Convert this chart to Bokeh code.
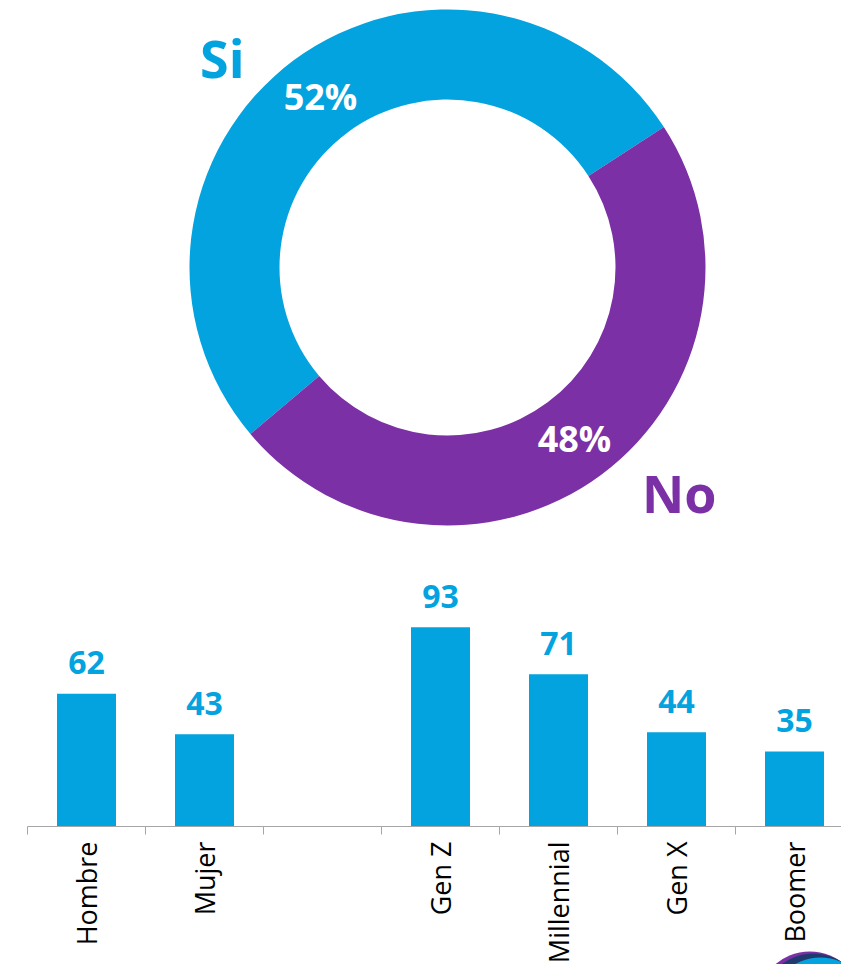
import math
from bokeh.plotting import figure
from bokeh.layouts import column
from bokeh.models import Range1d, FixedTicker, ColumnDataSource
from bokeh.embed import file_html
from bokeh.resources import INLINE
from bokeh.core.properties import value

# ---------------- data ----------------
donut_labels = ["Si", "No"]
donut_values = [52, 48]
donut_pct_text = ["52%", "48%"]
donut_colors = ["#03A3E0", "#7B30A5"]

bar_categories = ["Hombre", "Mujer", "", "Gen Z", "Millennial", "Gen X", "Boomer"]
bar_values = [62, 43, None, 93, 71, 44, 35]
bar_color = "#03A3E0"

# ---------------- styles / layout ----------------
FONT = "Open Sans"
W = 841
H1 = 552
LEFT = 27                    # frame left edge (shared by all figures)
CX, CY = 447, 285            # donut centre (data units = px)
R_IN, R_OUT = 168, 258
START_DEG = 33.0
LABEL_ANGLES = [137.4, 315.5]
LABEL_RADII = [306, 325]

# ---------------- donut ----------------
p1 = figure(width=W, height=H1, x_range=Range1d(LEFT, W), y_range=Range1d(0, H1),
            x_axis_type=None, y_axis_type=None, output_backend="svg",
            toolbar_location=None, min_border=0, min_border_left=LEFT)
p1.grid.visible = False
p1.outline_line_color = None

total = sum(donut_values)
starts, ends, mids = [], [], []
a = math.radians(START_DEG)
for v in donut_values:
    span = 2 * math.pi * v / total
    starts.append(a)
    ends.append(a + span)
    mids.append(a + span / 2)
    a += span

src = ColumnDataSource(dict(x=[CX] * len(donut_values), y=[CY] * len(donut_values),
                            start=starts, end=ends, color=donut_colors))
p1.annular_wedge(x="x", y="y", inner_radius=R_IN, outer_radius=R_OUT,
                 start_angle="start", end_angle="end", fill_color="color",
                 line_color=None, source=src)

r_mid = (R_IN + R_OUT) / 2
p1.text(x=[CX + r_mid * math.cos(m) for m in mids],
        y=[CY + r_mid * math.sin(m) for m in mids],
        text=donut_pct_text, text_color="white", text_font=value(FONT),
        text_font_style="bold", text_font_size="36px", text_align="center",
        text_baseline="alphabetic", y_offset=0)

p1.text(x=[CX + r * math.cos(math.radians(ang)) for r, ang in zip(LABEL_RADII, LABEL_ANGLES)],
        y=[CY + r * math.sin(math.radians(ang)) for r, ang in zip(LABEL_RADII, LABEL_ANGLES)],
        text=donut_labels, text_color=donut_colors, text_font=value(FONT),
        text_font_style="bold", text_font_size="52px", text_align="center",
        text_baseline="alphabetic", y_offset=-3)

# ---------------- bars ----------------
CAT_PX = 118.0
PX_PER_UNIT = 2.143
FRAME_W = W - LEFT
FRAME_H = 274
AXIS_H = 10
H2 = FRAME_H + AXIS_H
H3 = 964 - H1 - H2
LABEL_GAP = 5                # gap from top of label strip to end of rotated labels

p2 = figure(width=W, height=H2, x_range=Range1d(0, FRAME_W / CAT_PX),
            y_range=Range1d(0, FRAME_H / PX_PER_UNIT), y_axis_type=None,
            output_backend="svg", toolbar_location=None,
            min_border_left=LEFT, min_border_right=0, min_border_top=0,
            min_border_bottom=AXIS_H)
p2.grid.visible = False
p2.outline_line_color = None

xs = [i + 0.5 for i, v in enumerate(bar_values) if v is not None]
tops = [v for v in bar_values if v is not None]
bsrc = ColumnDataSource(dict(x=xs, top=tops, label=[str(v) for v in tops]))
p2.vbar(x="x", top="top", width=0.5, bottom=0, fill_color=bar_color,
        line_color=None, source=bsrc)
p2.text(x="x", y="top", text="label", source=bsrc, text_color=bar_color,
        text_font=value(FONT), text_font_style="bold", text_font_size="32px",
        text_align="center", text_baseline="alphabetic", y_offset=-31)

n = len(bar_categories)
ax = p2.xaxis[0]
ax.ticker = FixedTicker(ticks=[], minor_ticks=list(range(n + 1)))
ax.major_tick_line_color = None
ax.major_tick_in = 0
ax.major_tick_out = 0
ax.major_label_text_font_size = "0px"
ax.major_label_standoff = 0
ax.minor_tick_line_color = "#A6A6A6"
ax.minor_tick_in = 0
ax.minor_tick_out = 8
ax.axis_line_color = "#A6A6A6"
ax.axis_line_width = 1

# category labels (rotated), sharing the bar chart's x scale
p3 = figure(width=W, height=H3, x_range=p2.x_range, y_range=Range1d(0, H3),
            x_axis_type=None, y_axis_type=None, output_backend="svg",
            toolbar_location=None, min_border=0, min_border_left=LEFT)
p3.grid.visible = False
p3.outline_line_color = None
csrc = ColumnDataSource(dict(x=[i + 0.5 for i in range(n)], y=[H3 - LABEL_GAP] * n,
                             text=bar_categories))
p3.text(x="x", y="y", text="text", source=csrc, angle=math.pi / 2,
        text_align="right", text_baseline="middle",
        text_font=value(FONT), text_font_size="27px", text_color="#000000")

# partial logo peeking in at the bottom-right corner (decoration)
p3.scatter(x=[6.63], y=[-40], size=106, marker="circle", fill_color="#7B30A5", line_color=None)
p3.scatter(x=[6.66], y=[-41], size=104, marker="circle", fill_color="#1E3A6E", line_color=None)
p3.scatter(x=[6.72], y=[-45], size=104, marker="circle", fill_color="#03A3E0", line_color=None)

layout = column(p1, p2, p3, spacing=0)
open("out.html", "w").write(file_html(layout, INLINE))
